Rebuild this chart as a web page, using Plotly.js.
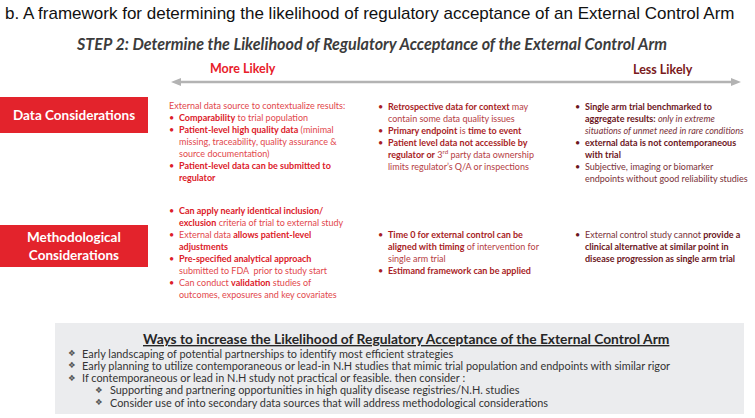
<!DOCTYPE html>
<html><head><meta charset="utf-8">
<script src="https://cdn.plot.ly/plotly-3.0.1.min.js"></script>
<style>html,body{margin:0;padding:0;background:#fff;}#chart{width:755px;height:418px;}</style>
</head><body><div id="chart"></div>
<script>
// ---- content ----
const figTitle = "b. A framework for determining the likelihood of regulatory acceptance of an External Control Arm";
const stepTitle = "STEP 2: Determine the Likelihood of Regulatory Acceptance of the External Control Arm";
const scaleEnds = ["More Likely", "Less Likely"];
const rowLabels = ["Data Considerations", "Methodological<br>Considerations"];

// each item: [hasBullet, lines]
const dataMore = [
  [false, ["External data source to contextualize results:"]],
  [true, ["<b>Comparability</b> to trial population"]],
  [true, ["<b>Patient-level high quality data</b> (minimal", "missing, traceability, quality assurance &", "source documentation)"]],
  [true, ["<b>Patient-level data can be submitted to</b>", "<b>regulator</b>"]]
];
const dataMid = [
  [true, ["<b>Retrospective data for context</b> may", "contain some data quality issues"]],
  [true, ["<b>Primary endpoint</b> is <b>time to event</b>"]],
  [true, ["<b>Patient level data not accessible by</b>", "<b>regulator or</b> 3<sup>rd</sup> party data ownership", "limits regulator’s Q/A or inspections"]]
];
const dataLess = [
  [true, ["<b>Single arm trial benchmarked to</b>", "<b>aggregate results:</b> <i>only in extreme</i>", "<i>situations of unmet need in rare conditions</i>"]],
  [true, ["<b>external data is not contemporaneous</b>", "<b>with trial</b>"]],
  [true, ["Subjective, imaging or biomarker", "endpoints without good reliability studies"]]
];
const methMore = [
  [true, ["<b>Can apply nearly identical inclusion/</b>", "<b>exclusion</b> criteria of trial to external study"]],
  [true, ["External data <b>allows patient-level</b>", "<b>adjustments</b>"]],
  [true, ["<b>Pre-specified analytical approach</b>", "submitted to FDA  prior to study start"]],
  [true, ["Can conduct <b>validation</b> studies of", "outcomes, exposures and key covariates"]]
];
const methMid = [
  [true, ["<b>Time 0 for external control can be</b>", "<b>aligned with timing</b> of intervention for", "single arm trial"]],
  [true, ["<b>Estimand framework can be applied</b>"]]
];
const methLess = [
  [true, ["External control study cannot <b>provide a</b>", "<b>clinical alternative at similar point in</b>", "<b>disease progression as single arm trial</b>"]]
];
const waysTitle = "Ways to increase the Likelihood of Regulatory Acceptance of the External Control Arm";
// [level, text]
const waysItems = [
  [0, "Early landscaping of potential partnerships to identify most efficient strategies"],
  [0, "Early planning to utilize contemporaneous or lead-in N.H studies that mimic trial population and endpoints with similar rigor"],
  [0, "If contemporaneous or lead in N.H study not practical or feasible. then consider :"],
  [1, "Supporting and partnering opportunities in high quality disease registries/N.H. studies"],
  [1, "Consider use of into secondary data sources that will address methodological considerations"]
];

// ---- styling ----
const F = "Lato, 'Open Sans', sans-serif";
const colStyles = [
  {x: 167, c: "#e2474c"},
  {x: 376, c: "#b53d44"},
  {x: 573, c: "#7a3138"}
];
const colBold = ["#dc2029", "#a81d25", "#6c161d"];
const LH = 12.1, FS = 9.0;

const ann = [];
function addCol(items, col, y0) {
  const st = colStyles[col];
  let y = y0;
  items.forEach(([bul, lines]) => {
    if (bul) ann.push({x: st.x, y: y, text: "•", xanchor: "left", yanchor: "middle", showarrow: false,
      font: {family: F, size: FS, color: colBold[col]}});
    lines.forEach(l => {
      const t = l.replace(/<b>/g, "<b><span style='color:" + colBold[col] + "'>").replace(/<\/b>/g, "</span></b>");
      ann.push({x: bul ? st.x + 10 : st.x, y: y, text: t, xanchor: "left", yanchor: "middle", showarrow: false,
        font: {family: F, size: FS, color: st.c}});
      y += LH;
    });
  });
}
addCol(dataMore, 0, 105);
addCol(dataMid, 1, 106);
addCol(dataLess, 2, 106);
addCol(methMore, 0, 210);
addCol(methMid, 1, 234);
addCol(methLess, 2, 234);

ann.push({x: 3, y: 13, text: figTitle, xanchor: "left", yanchor: "middle", showarrow: false,
  font: {family: "'Liberation Sans', Arial, sans-serif", size: 17, color: "#111"}});
ann.push({x: 371, y: 43, text: "<b><i>" + stepTitle + "</i></b>", xanchor: "center", yanchor: "middle", showarrow: false,
  font: {family: F, size: 16.1, color: "#3c3c3c"}});
ann.push({x: 243, y: 68, text: "<b>" + scaleEnds[0] + "</b>", xanchor: "center", yanchor: "middle", showarrow: false,
  font: {family: F, size: 12.5, color: "#e8202a"}});
ann.push({x: 663, y: 69, text: "<b>" + scaleEnds[1] + "</b>", xanchor: "center", yanchor: "middle", showarrow: false,
  font: {family: F, size: 12.5, color: "#7a1a20"}});
// row labels
ann.push({x: 74, y: 115, text: "<b>" + rowLabels[0] + "</b>", xanchor: "center", yanchor: "middle", showarrow: false,
  font: {family: F, size: 13.5, color: "#ffffff"}});
ann.push({x: 74, y: 246, text: "<b>" + rowLabels[1] + "</b>", xanchor: "center", yanchor: "middle", showarrow: false,
  font: {family: F, size: 13.5, color: "#ffffff"}});
// ways box
ann.push({x: 406, y: 338.5, text: "<b><u>" + waysTitle + "</u></b>", xanchor: "center", yanchor: "middle", showarrow: false,
  font: {family: F, size: 13.8, color: "#262626"}});
waysItems.forEach(([lvl, t], i) => {
  const y = 353 + i * 12.3;
  const bx = lvl ? 93 : 66;
  ann.push({x: bx, y: y, text: "❖", xanchor: "left", yanchor: "middle", showarrow: false,
    font: {family: "'DejaVu Sans', sans-serif", size: 8.5, color: "#555"}});
  ann.push({x: bx + (lvl ? 15 : 14), y: y, text: t, xanchor: "left", yanchor: "middle", showarrow: false,
    font: {family: F, size: 10.9, color: "#333"}});
});

const AC = "#b3b3b3";
const shapes = [
  {type: "rect", x0: 0, x1: 148, y0: 97, y1: 133, fillcolor: "#e3232c", line: {width: 0}, layer: "below"},
  {type: "rect", x0: 0, x1: 148, y0: 225, y1: 267, fillcolor: "#e3232c", line: {width: 0}, layer: "below"},
  {type: "rect", x0: 55, x1: 744, y0: 323, y1: 414, fillcolor: "#ebecee", line: {width: 0}, layer: "below"},
  // double-headed scale arrow
  {type: "line", x0: 178, x1: 734, y0: 82, y1: 82, line: {color: AC, width: 2.5}},
  {type: "path", path: "M 171 82 L 181 78 L 181 86 Z", fillcolor: AC, line: {width: 0}},
  {type: "path", path: "M 741 82 L 731 78 L 731 86 Z", fillcolor: AC, line: {width: 0}}
];

Plotly.newPlot("chart", [], {
  width: 755, height: 418,
  margin: {l: 0, r: 0, t: 0, b: 0},
  paper_bgcolor: "#fff", plot_bgcolor: "#fff",
  xaxis: {range: [0, 755], visible: false, fixedrange: true},
  yaxis: {range: [418, 0], visible: false, fixedrange: true},
  showlegend: false,
  annotations: ann, shapes: shapes
}, {displayModeBar: false, staticPlot: true});
</script></body></html>
